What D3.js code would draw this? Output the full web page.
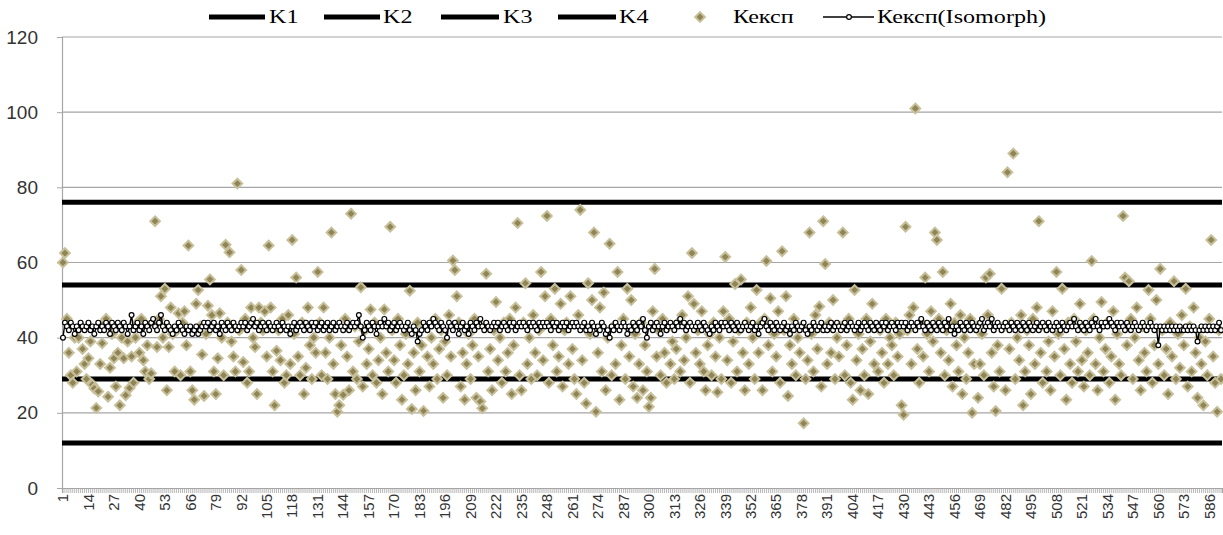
<!DOCTYPE html>
<html>
<head>
<meta charset="utf-8">
<script src="https://d3js.org/d3.v7.min.js"></script>
<style>
  body { margin: 0; background: white; }
</style>
</head>
<body>
<svg id="chart" width="1223" height="535"></svg>
<script>
// ---- data ----
const seriesNames = ["K1", "K2", "K3", "K4", "Кексп", "Кексп(Isomorph)"];
const kLevels = [12, 29, 54, 76];          // K1..K4 horizontal levels
const yTicks = [0, 20, 40, 60, 80, 100, 120];

// Кексп, rows of 13 categories (1..592)
const kexp = [
  60, 62.5, 45, 36, 30, 28, 40, 31, 40, 43, 37, 33, 29,
  34.5, 39, 27.5, 26.5, 21.3, 25.7, 33, 38.5, 44, 45, 24.3, 32, 41,
  34.5, 27, 36, 22, 40, 34.5, 24.7, 39, 26.6, 35, 28, 40, 44,
  36, 45, 34, 31, 38, 29, 30.5, 44, 71, 37.5, 45, 51, 40,
  53, 26, 37.5, 48, 41, 31, 42, 46.5, 30, 44, 47, 38, 64.5,
  31, 26, 23.5, 49, 52.7, 43, 35.5, 24.5, 41, 48.5, 55.5, 46, 31,
  25, 34.5, 46.5, 40, 30, 64.7, 44, 62.7, 39, 35, 31, 81, 42,
  58, 33.5, 45, 28, 31, 48, 40, 37.5, 25, 48, 44, 42, 47,
  35, 64.5, 48, 31, 22, 36.5, 42, 34, 45, 28, 30, 46, 33,
  66, 41, 56, 35, 30, 44, 25, 32, 48, 38, 29, 40, 36,
  57.5, 44, 30, 48, 36, 29, 40, 68, 33, 25, 20.3, 22, 38,
  24.8, 45, 35, 26, 73, 31, 43, 29, 39, 53.4, 27, 42, 33,
  37, 47.5, 30, 44, 28, 34, 40, 25, 47.5, 36, 31, 69.5, 42,
  34, 28, 45, 38, 23.5, 30, 41, 33, 52.5, 21, 36, 26, 44,
  31, 38, 20.5, 43, 35, 27, 40, 33, 45, 29, 37, 42, 24,
  39, 30, 46, 35, 60.5, 58, 51, 44, 27, 36, 23.5, 33, 41,
  29, 38, 45, 24, 35, 23, 21.2, 43, 57, 31, 37, 26, 42,
  49.5, 34, 40, 28, 44, 31, 36, 45, 25, 38, 48, 70.5, 30,
  26, 44, 54.5, 33, 40, 29, 46, 36, 30, 42, 57.5, 34, 51,
  72.4, 28, 45, 38, 53, 31, 35, 49, 27, 42, 44, 33, 51,
  37, 29, 25, 46, 74, 34, 28, 22.5, 54.5, 41, 50, 68, 20.3,
  36, 48, 31, 52, 26, 40, 65, 30, 43, 33, 57.5, 23.5, 38,
  45, 29, 53, 35, 50, 27, 41, 24, 33, 44, 26, 38, 31,
  21.6, 24, 47, 58.3, 35, 42, 30, 45, 36, 28, 43, 33, 39,
  29, 37, 44, 31, 46, 34, 40, 51, 28, 62.5, 49, 36, 42,
  33, 47, 31, 26, 38, 41, 30, 44, 35, 25.5, 40, 29, 47,
  61.5, 34, 45, 28, 39, 54.3, 31, 42, 55.5, 36, 26, 44, 33,
  48, 40, 29, 52.7, 36, 44, 26, 45, 60.4, 38, 50.5, 31, 41,
  35, 47, 28, 63, 42, 51, 24.5, 38, 33, 45, 30, 40, 36,
  43, 17.2, 29, 34, 68, 41, 31, 46, 37, 48.3, 27, 71, 59.6,
  33, 44, 36, 50, 29, 40, 35, 43, 68, 30, 38, 45, 28,
  23.5, 52.7, 34, 41, 26, 37, 30, 45, 25, 39, 49, 33, 43,
  31, 42, 36, 28, 45, 33, 40, 38, 30, 44, 35, 41, 22,
  19.5, 69.5, 42, 46, 33, 48, 101, 37, 28, 44, 35, 56, 41,
  31, 47, 39, 68, 66, 45, 36, 57.5, 30, 42, 34, 49, 27,
  44, 38, 31, 46, 25, 40, 29, 36, 45, 20, 33, 43, 24,
  33, 41, 30, 56, 46, 57, 36, 27, 20.5, 38, 31, 53, 43,
  26, 84, 37, 44, 89, 29, 40, 34, 46, 22, 31, 42, 38,
  25, 45, 33, 48, 71, 36, 28, 43, 31, 39, 26, 47, 35,
  57.5, 41, 30, 53, 37, 23.5, 44, 33, 28, 45, 39, 31, 49,
  34, 27, 42, 36, 30, 60.4, 45, 33, 26, 40, 49.5, 31, 37,
  44, 28, 35, 47, 23.5, 41, 33, 30, 72.4, 56, 38, 55, 45,
  29, 40, 48, 34, 26, 43, 36, 31, 52.7, 45, 28, 38, 50,
  33, 58.3, 42, 30, 37, 25, 44, 35, 55, 29, 41, 32, 46,
  38, 53, 27, 43, 31, 48, 36, 24, 40, 33, 22, 39, 30,
  45, 66, 35, 28, 20.3, 42, 29
];

// Кексп(Isomorph), rows of 13 categories
const isomorph = [
  40, 44, 43, 42, 44, 43, 41, 43, 42, 44, 43, 42, 43,
  44, 42, 43, 41, 43, 44, 42, 43, 42, 44, 43, 41, 44,
  43, 42, 44, 43, 42, 44, 43, 41, 43, 46, 42, 43, 44,
  42, 43, 41, 44, 43, 42, 44, 45, 43, 42, 44, 46, 43,
  42, 44, 43, 42, 41, 43, 42, 44, 43, 42, 41, 43, 42,
  43, 41, 42, 43, 41, 42, 43, 44, 43, 44, 42, 43, 44,
  42, 43, 41, 44, 43, 42, 44, 43, 42, 44, 43, 42, 43,
  44, 43, 44, 42, 43, 44, 45, 43, 44, 42, 43, 44, 43,
  42, 44, 43, 42, 43, 44, 43, 42, 44, 43, 42, 43, 41,
  43, 44, 42, 43, 44, 43, 42, 44, 43, 42, 44, 43, 44,
  42, 43, 44, 42, 43, 44, 42, 43, 44, 42, 43, 44, 43,
  42, 43, 44, 42, 43, 44, 43, 44, 46, 43, 40, 42, 44,
  43, 42, 44, 43, 41, 43, 44, 43, 45, 43, 44, 42, 43,
  44, 42, 43, 44, 43, 42, 43, 44, 42, 41, 43, 42, 39,
  41, 42, 44, 43, 42, 44, 43, 45, 44, 43, 42, 44, 43,
  42, 40, 44, 43, 42, 44, 43, 41, 43, 44, 42, 43, 41,
  44, 43, 42, 44, 43, 45, 43, 42, 44, 43, 42, 43, 44,
  43, 44, 42, 43, 44, 43, 42, 44, 43, 44, 42, 43, 44,
  43, 44, 43, 42, 44, 43, 44, 43, 42, 44, 43, 44, 43,
  44, 43, 42, 44, 43, 44, 42, 43, 44, 43, 44, 42, 43,
  44, 43, 44, 43, 42, 43, 44, 42, 43, 42, 44, 43, 41,
  43, 42, 44, 43, 41, 42, 40, 43, 42, 44, 43, 42, 43,
  44, 43, 41, 43, 42, 44, 43, 42, 44, 43, 45, 42, 40,
  43, 44, 42, 43, 44, 43, 41, 43, 44, 42, 43, 44, 43,
  42, 44, 43, 45, 43, 44, 42, 43, 44, 43, 42, 43, 44,
  43, 42, 44, 43, 42, 41, 43, 42, 44, 43, 42, 44, 43,
  44, 43, 42, 44, 43, 42, 44, 43, 42, 43, 44, 43, 42,
  43, 44, 42, 43, 41, 43, 44, 45, 43, 42, 44, 43, 42,
  44, 43, 42, 43, 44, 42, 43, 41, 43, 42, 44, 43, 42,
  43, 44, 42, 41, 43, 42, 44, 43, 42, 43, 44, 42, 43,
  42, 43, 44, 42, 43, 44, 43, 42, 43, 44, 42, 43, 44,
  43, 42, 43, 44, 42, 43, 44, 43, 42, 44, 43, 42, 44,
  43, 42, 44, 43, 44, 42, 43, 44, 43, 42, 44, 43, 44,
  43, 44, 42, 43, 44, 43, 42, 44, 43, 45, 43, 42, 44,
  43, 42, 44, 43, 42, 44, 43, 42, 44, 43, 45, 42, 43,
  41, 43, 42, 44, 43, 42, 44, 43, 42, 44, 43, 42, 43,
  44, 45, 42, 43, 44, 43, 45, 42, 43, 44, 43, 42, 43,
  44, 43, 42, 44, 43, 42, 44, 43, 42, 44, 43, 42, 44,
  43, 42, 43, 44, 42, 43, 44, 43, 42, 44, 43, 42, 43,
  44, 43, 42, 44, 43, 42, 43, 44, 43, 45, 43, 42, 44,
  43, 42, 44, 43, 42, 44, 43, 45, 43, 42, 44, 43, 44,
  43, 45, 44, 43, 42, 44, 43, 44, 43, 42, 44, 43, 42,
  43, 44, 43, 42, 43, 44, 43, 42, 43, 44, 43, 42, 43,
  38, 43, 42, 43, 42, 43, 42, 43, 42, 43, 42, 43, 42,
  42, 43, 42, 43, 42, 43, 42, 39, 42, 43, 42, 43, 42,
  43, 42, 43, 42, 43, 44, 42
];

const categories = d3.range(1, kexp.length + 1);
const xLabels = categories.filter((d, i) => i % 13 === 0);

// ---- layout ----
const svg = d3.select("#chart");
const plotLeft = 62, plotRight = 1222, plotTop = 37, plotBottom = 488;

const x = d3.scaleBand().domain(categories).range([plotLeft, plotRight]);
const y = d3.scaleLinear().domain([0, 120]).range([plotBottom, plotTop]);
const cx = d => x(d) + x.bandwidth() / 2;

// gridlines
svg.append("g").selectAll("line").data(yTicks.filter(d => d > 0)).join("line")
  .attr("x1", plotLeft).attr("x2", plotRight)
  .attr("y1", d => y(d)).attr("y2", d => y(d))
  .attr("stroke", "#a6a6a6").attr("stroke-width", 1.2);

// y axis
const yAxis = svg.append("g").attr("transform", `translate(${plotLeft},0)`)
  .call(d3.axisLeft(y).tickValues(yTicks).tickSize(5).tickPadding(19));
yAxis.select(".domain").attr("stroke", "#a6a6a6").attr("stroke-width", 1.2);
yAxis.selectAll(".tick line").attr("stroke", "#a6a6a6");
yAxis.selectAll(".tick text")
  .attr("font-family", "Liberation Sans, Arial, sans-serif")
  .attr("font-size", 19).attr("fill", "#333");

// x axis: minor ticks at every category
const xMinor = svg.append("g").attr("transform", `translate(0,${plotBottom})`)
  .call(d3.axisBottom(x).tickValues(categories).tickSize(5).tickFormat(""));
xMinor.select(".domain").attr("stroke", "#a6a6a6").attr("stroke-width", 1.2);
xMinor.selectAll(".tick line").attr("stroke", "#a6a6a6").attr("stroke-width", 0.8);

// x axis labels
const xLab = svg.append("g").attr("transform", `translate(0,${plotBottom})`)
  .call(d3.axisBottom(x).tickValues(xLabels).tickSize(0));
xLab.select(".domain").remove();
xLab.selectAll(".tick text")
  .attr("font-family", "Liberation Sans, Arial, sans-serif")
  .attr("font-size", 15).attr("fill", "#333")
  .attr("transform", "rotate(-90)")
  .attr("text-anchor", "end")
  .attr("x", -6).attr("y", 0).attr("dy", "0.35em");

// K1..K4 levels
svg.append("g").selectAll("line").data(kLevels).join("line")
  .attr("x1", plotLeft).attr("x2", plotRight)
  .attr("y1", d => y(d)).attr("y2", d => y(d))
  .attr("stroke", "black").attr("stroke-width", 5);

// Кексп diamonds
const diamond = d3.symbol().type(d3.symbolDiamond2).size(60);
svg.append("g").selectAll("path").data(kexp).join("path")
  .attr("d", diamond)
  .attr("transform", (d, i) => `translate(${cx(categories[i])},${y(d)})`)
  .attr("fill", "#8f8556").attr("stroke", "#c8c09b").attr("stroke-width", 2);

// Кексп(Isomorph) line with markers
const line = d3.line().x((d, i) => cx(categories[i])).y(d => y(d));
svg.append("path").datum(isomorph)
  .attr("d", line).attr("fill", "none").attr("stroke", "black").attr("stroke-width", 1.4);
svg.append("g").selectAll("circle").data(isomorph).join("circle")
  .attr("cx", (d, i) => cx(categories[i])).attr("cy", d => y(d)).attr("r", 2.4)
  .attr("fill", "white").attr("stroke", "black").attr("stroke-width", 1.2);

// legend (text is a little wider than normal in the source picture)
const legend = svg.append("g").attr("font-family", "Liberation Serif, Times New Roman, serif")
  .attr("font-size", 19).attr("fill", "black");
const legendText = (tx, str) => legend.append("text")
  .attr("transform", `translate(${tx},23) scale(1.27,1)`).text(str);
const kLine = [[209, 265], [324, 380], [441, 499], [558, 616]];
const kText = [269, 383, 503, 619];
kLevels.forEach((k, i) => {
  legend.append("line").attr("x1", kLine[i][0]).attr("x2", kLine[i][1])
    .attr("y1", 17).attr("y2", 17).attr("stroke", "black").attr("stroke-width", 5);
  legendText(kText[i], seriesNames[i]);
});
legend.append("path").attr("d", diamond)
  .attr("transform", "translate(700,17)")
  .attr("fill", "#8f8556").attr("stroke", "#c8c09b").attr("stroke-width", 2);
legendText(733, seriesNames[4]);
legend.append("line").attr("x1", 823).attr("x2", 874).attr("y1", 17).attr("y2", 17)
  .attr("stroke", "black").attr("stroke-width", 1.4);
legend.append("circle").attr("cx", 849).attr("cy", 17).attr("r", 2.4)
  .attr("fill", "white").attr("stroke", "black").attr("stroke-width", 1.2);
legendText(877, seriesNames[5]);
</script>
</body>
</html>
